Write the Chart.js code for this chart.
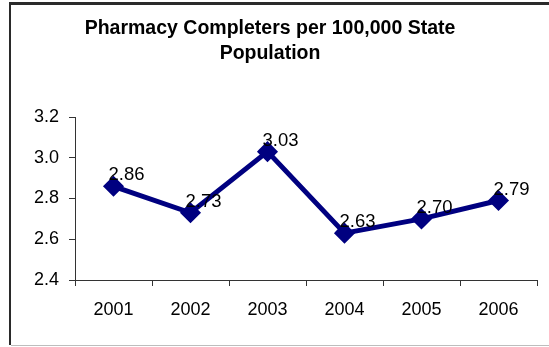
<!DOCTYPE html>
<html>
<head>
<meta charset="utf-8">
<script src="https://cdn.jsdelivr.net/npm/chart.js@4/dist/chart.umd.min.js"></script>
<style>
  html, body { margin: 0; padding: 0; background: #fff; overflow: hidden; }
  canvas { display: block; }
</style>
</head>
<body>
<canvas id="c" width="549" height="347"></canvas>
<script>
const titleLines = ['Pharmacy Completers per 100,000 State', 'Population'];
const years = ['2001', '2002', '2003', '2004', '2005', '2006'];
const completers = [2.86, 2.73, 3.03, 2.63, 2.70, 2.79];
const yTicks = [2.4, 2.6, 2.8, 3.0, 3.2];

const FONT = '"Liberation Sans", Arial, sans-serif';

const frame = {
  id: 'frame',
  afterDraw(chart) {
    const ctx = chart.ctx;
    ctx.save();
    ctx.fillStyle = '#2a2a2a';
    ctx.fillRect(9, 2, 2, 343);
    ctx.fillRect(9, 2, chart.width - 9, 3);
    ctx.fillStyle = '#bdbdbd';
    ctx.fillRect(11, 345, chart.width - 11, 1);
    ctx.restore();
  }
};

const valueLabels = {
  id: 'valueLabels',
  afterDatasetsDraw(chart) {
    const ctx = chart.ctx;
    const meta = chart.getDatasetMeta(0);
    ctx.save();
    ctx.font = '18.5px ' + FONT;
    ctx.fillStyle = '#000';
    ctx.textAlign = 'center';
    ctx.textBaseline = 'alphabetic';
    meta.data.forEach((pt, i) => {
      ctx.fillText(completers[i].toFixed(2), pt.x + 13, pt.y - 6);
    });
    ctx.restore();
  }
};

new Chart(document.getElementById('c'), {
  type: 'line',
  data: {
    labels: years,
    datasets: [{
      data: completers,
      borderColor: '#000080',
      backgroundColor: '#000080',
      borderWidth: 5,
      pointStyle: 'rectRot',
      pointRadius: 7,
      pointBackgroundColor: '#000080',
      pointBorderColor: '#000080',
      tension: 0
    }]
  },
  options: {
    responsive: false,
    animation: false,
    layout: { padding: { left: 2, right: 11, top: 3, bottom: 0 } },
    plugins: {
      legend: { display: false },
      tooltip: { enabled: false },
      title: {
        display: true,
        text: titleLines,
        color: '#000',
        font: { family: FONT, size: 19.5, weight: 'bold', lineHeight: '25px' },
        padding: { top: 13, bottom: 51 }
      }
    },
    scales: {
      x: {
        offset: true,
        grid: { display: true, drawOnChartArea: false, drawTicks: true, tickLength: 6, color: '#333', offset: true },
        border: { display: true, color: '#333', width: 1 },
        ticks: { color: '#000', font: { family: FONT, size: 18 }, padding: 13, maxRotation: 0 },
        afterFit(s) { s.height = 67; }
      },
      y: {
        min: 2.4,
        max: 3.2,
        afterBuildTicks(s) { s.ticks = yTicks.map(v => ({ value: v })); },
        grid: { display: true, drawOnChartArea: false, drawTicks: true, tickLength: 6, color: '#333' },
        border: { display: true, color: '#333', width: 1 },
        ticks: { color: '#000', font: { family: FONT, size: 18 }, padding: 10,
                 callback: v => Number(v).toFixed(1) },
        afterFit(s) { s.width = 73; }
      }
    }
  },
  plugins: [frame, valueLabels]
});
</script>
</body>
</html>
